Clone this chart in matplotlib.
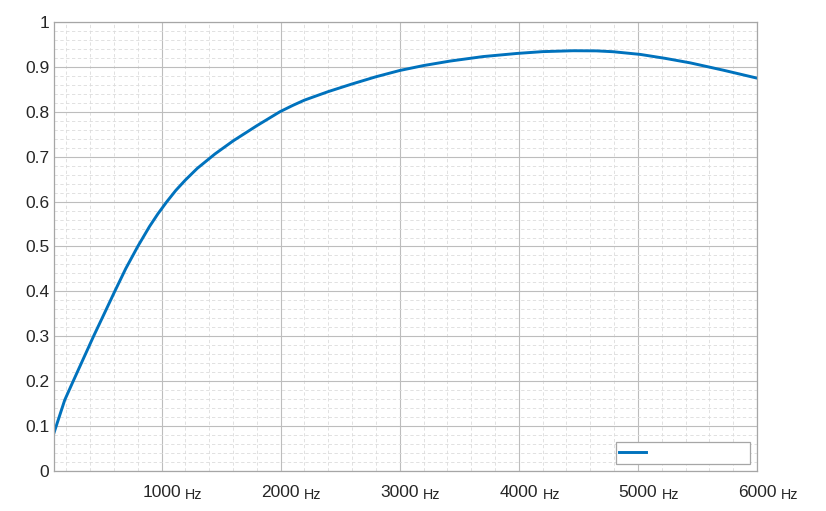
import matplotlib.pyplot as plt
from matplotlib.ticker import MultipleLocator, FuncFormatter
import matplotlib.transforms as mtransforms

plt.rcParams['font.family'] = ['Liberation Sans', 'DejaVu Sans']

# frequency (Hz) and response
freq = [97, 187, 258, 340, 429, 520, 607, 700, 800, 900, 970, 1045, 1120,
        1200, 1300, 1448, 1600, 1800, 1993, 2100, 2200, 2400, 2600, 2800,
        3000, 3200, 3423, 3700, 3986, 4200, 4456, 4650, 4792, 5020, 5230,
        5439, 5720, 6000]
resp = [0.085, 0.158, 0.200, 0.248, 0.300, 0.351, 0.400, 0.451, 0.500, 0.545,
        0.573, 0.600, 0.625, 0.648, 0.674, 0.706, 0.735, 0.769, 0.800, 0.814,
        0.826, 0.845, 0.862, 0.878, 0.892, 0.903, 0.913, 0.923, 0.930, 0.934,
        0.936, 0.9357, 0.9338, 0.9278, 0.919, 0.909, 0.8925, 0.875]
xticks = [1000, 2000, 3000, 4000, 5000, 6000]

fig = plt.figure(figsize=(8.26, 5.11), dpi=100)
ax = fig.add_axes([54 / 826, 40 / 511, 703 / 826, 449 / 511])

line, = ax.plot(freq, resp, color='#0072BD', lw=2.1)

ax.set_xlim(freq[0], 6000)
ax.set_ylim(0, 1)
ax.set_xticks(xticks)
ax.xaxis.set_minor_locator(MultipleLocator(200))
ax.yaxis.set_major_locator(MultipleLocator(0.1))
ax.yaxis.set_minor_locator(MultipleLocator(0.02))
ax.yaxis.set_major_formatter(FuncFormatter(lambda v, p: f'{v:g}'))
ax.set_xticklabels([])

ax.grid(which='major', color='#bdbdbd', lw=0.8, ls='-')
ax.grid(which='minor', color='#dcdcdc', lw=0.6, ls=(0, (4, 3)))
ax.set_axisbelow(True)

for s in ax.spines.values():
    s.set_color('#a6a6a6')
    s.set_linewidth(0.9)
ax.tick_params(which='both', length=0, colors='#262626')
ax.tick_params(axis='y', labelsize=12.5, pad=3.5)

trans = mtransforms.blended_transform_factory(ax.transData, ax.transAxes)
for t in xticks:
    ax.annotate(str(t), (t, 0), xycoords=trans, xytext=(0, -10),
                textcoords='offset points', ha='center', va='top',
                fontsize=12.5, color='#262626')
    ax.annotate('Hz', (t, 0), xycoords=trans, xytext=(17, -12.0),
                textcoords='offset points', ha='left', va='top',
                fontsize=10.3, color='#262626')

leg = ax.legend([line], ['\u2007' * 12], loc='lower right',
                bbox_to_anchor=(1 - 7 / 703, 7.5 / 449), fontsize=10,
                handlelength=1.95, handletextpad=0.5, borderpad=0.26,
                borderaxespad=0, fancybox=False, framealpha=1)
leg.get_frame().set_edgecolor('#a6a6a6')
leg.get_frame().set_linewidth(0.9)

fig.savefig('out.png', dpi=100)
